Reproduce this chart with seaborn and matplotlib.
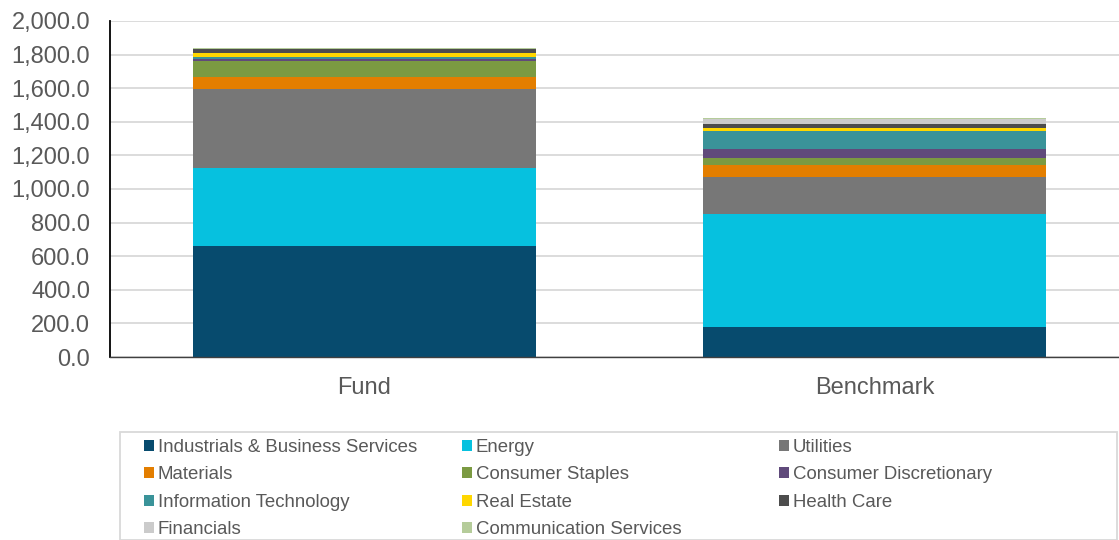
import numpy as np
import pandas as pd
import matplotlib
matplotlib.use("Agg")
import matplotlib.pyplot as plt
import seaborn as sns
from matplotlib.patches import Rectangle, Patch

# Portfolio groups
groups = ["Fund", "Benchmark"]

# Sector names, in stacking order (bottom to top)
sectors = [
    "Industrials & Business Services", "Energy", "Utilities",
    "Materials", "Consumer Staples", "Consumer Discretionary",
    "Information Technology", "Real Estate", "Health Care",
    "Financials", "Communication Services",
]

# Sector values for each group
fund_values = [660, 465, 468, 71, 99, 8, 15, 24, 22, 0, 6]
benchmark_values = [178, 672, 222, 68, 42, 57, 107, 18, 24, 30, 4]

sector_colors = [
    "#074B6E", "#06C1DF", "#777777", "#E37E00", "#7B9A42", "#604A7B",
    "#3A9399", "#FFD700", "#4D4D4D", "#CBCBCB", "#B5CC9A",
]

y_ticks = [0, 200, 400, 600, 800, 1000, 1200, 1400, 1600, 1800, 2000]

sns.set_theme(style="white")
plt.rcParams["font.family"] = ["Liberation Sans", "DejaVu Sans"]

df = pd.DataFrame({"Fund": fund_values, "Benchmark": benchmark_values}, index=sectors)
cum = df.cumsum()

fig = plt.figure(figsize=(11.19, 5.40), dpi=100)
W, H = 1119, 540
ax = fig.add_axes([109.5 / W, 1 - 357 / H, 1020 / W, 336 / H])

# Stack by drawing cumulative totals from the top segment down
for i in range(len(sectors) - 1, -1, -1):
    sub = pd.DataFrame({"group": groups, "value": [cum.loc[sectors[i], g] for g in groups]})
    sns.barplot(data=sub, x="group", y="value", order=groups, color=sector_colors[i],
                saturation=1, width=0.673, ax=ax, errorbar=None, zorder=2, linewidth=0)

ax.set_xlim(-0.5, 1.5)
ax.set_ylim(0, 2000)
ax.set_yticks(y_ticks)
ax.set_yticklabels([f"{v:,.1f}" for v in y_ticks])
ax.set_xlabel("")
ax.set_ylabel("")
ax.grid(axis="y", color="#D9D9D9", linewidth=1.3, zorder=0)
ax.set_axisbelow(True)
for s in ["top", "right"]:
    ax.spines[s].set_visible(False)
ax.spines["left"].set_color("#000000")
ax.spines["left"].set_linewidth(1.3)
ax.spines["bottom"].set_color("#404040")
ax.spines["bottom"].set_linewidth(1.0)
ax.tick_params(axis="y", labelsize=17, length=0, pad=14)
ax.tick_params(axis="x", labelsize=17, length=0, pad=14.5)
for lbl in ax.get_yticklabels() + ax.get_xticklabels():
    lbl.set_color("#595959")

# Legend frame
fig.patches.append(Rectangle((120 / W, 0), 997 / W, 1 - 432 / H, transform=fig.transFigure,
                             facecolor="white", edgecolor="#D9D9D9", linewidth=1.3))

# Legend in three columns
col_x = [144, 462, 779]
for c in range(3):
    idx = list(range(c, len(sectors), 3))
    handles = [Patch(facecolor=sector_colors[k], edgecolor="none") for k in idx]
    labels = [sectors[k] for k in idx]
    leg = fig.legend(handles, labels, loc="upper left",
                     bbox_to_anchor=(col_x[c] / W, 1 - 439 / H), bbox_transform=fig.transFigure,
                     frameon=False, fontsize=13.4, handlelength=0.54, handleheight=0.54,
                     handletextpad=0.2, labelspacing=0.56, borderpad=0, borderaxespad=0)
    for t in leg.get_texts():
        t.set_color("#595959")

fig.savefig("out.png", dpi=100)
